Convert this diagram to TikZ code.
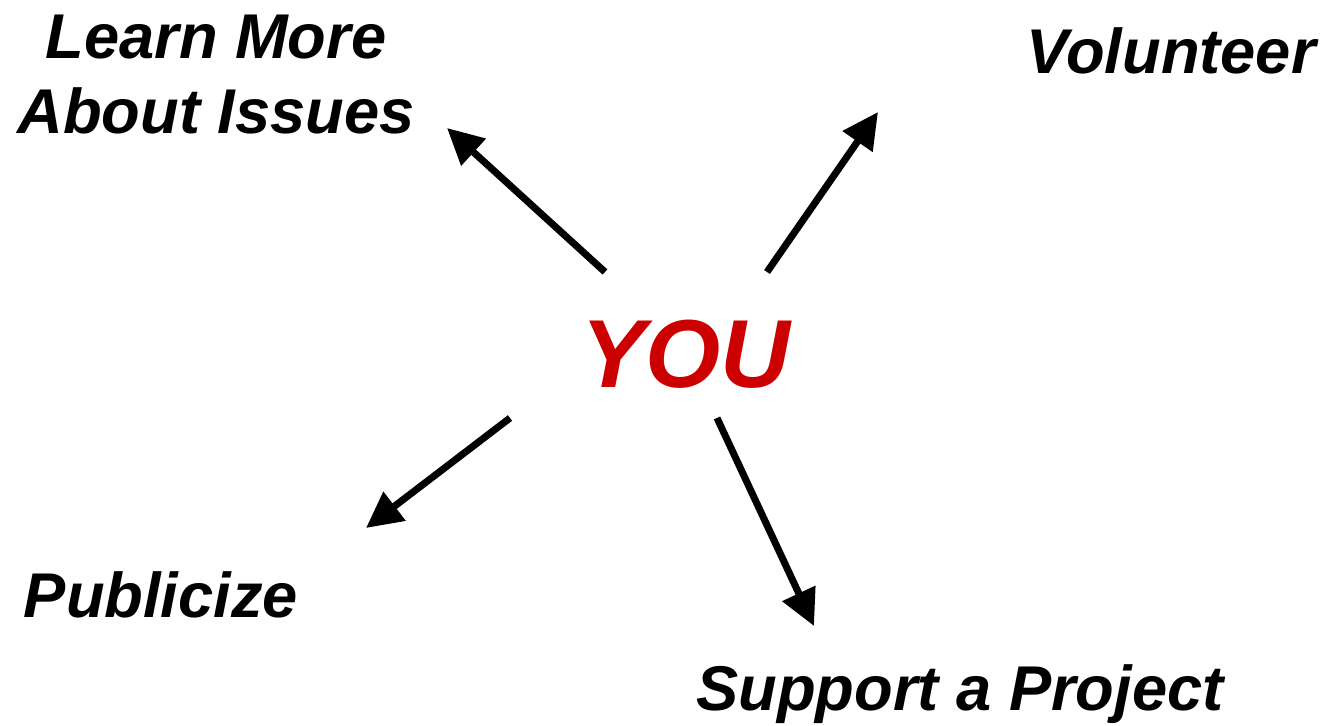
\documentclass[tikz,border=0pt]{standalone}
\usepackage{fontspec}
\setmainfont{Liberation Sans}
\usepackage{xcolor}
\usetikzlibrary{arrows.meta,positioning}
\definecolor{youred}{RGB}{204,0,0}
\tikzset{
  goal/.style={font=\fontsize{36}{42.7}\selectfont\bfseries\itshape, text=black,
    inner sep=0pt, align=center},
  centre/.style={font=\fontsize{55}{64}\selectfont\bfseries\itshape, text=youred,
    inner sep=0pt},
  garrow/.style={-{Triangle[length=0.72cm,width=0.7cm]}, line width=4pt, black}
}
\begin{document}
\begin{tikzpicture}[x=0.02cm,y=-0.02cm]
  \useasboundingbox (0,0) rectangle (1325,726);
  \node[centre,anchor=base] (you) at (686,387) {YOU};
  \node[goal,anchor=base] (learn) at (216,134) {Learn More\\About Issues};
  \node[goal,anchor=base] (vol) at (1171,74) {Volunteer};
  \node[goal,anchor=base] (pub) at (161,617) {Publicize};
  \node[goal,anchor=base] (supp) at (960,710) {Support a Project};
  % arrow ends
  \coordinate (a1) at (605,272); \coordinate (b1) at (447,128);
  \coordinate (a2) at (767,272); \coordinate (b2) at (878,112);
  \coordinate (a3) at (510,418); \coordinate (b3) at (366,528);
  \coordinate (a4) at (717,418); \coordinate (b4) at (814,626);
  \draw[garrow](a1)--(b1);\draw[garrow](a2)--(b2);
  \draw[garrow](a3)--(b3);\draw[garrow](a4)--(b4);
\end{tikzpicture}
\end{document}
